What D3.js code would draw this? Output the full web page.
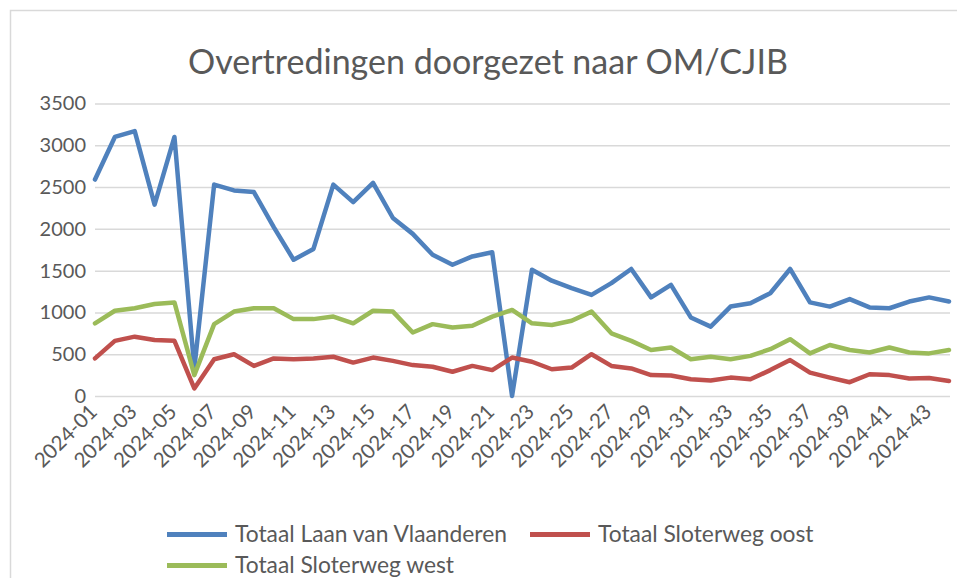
<!DOCTYPE html>
<html>
<head>
<meta charset="utf-8">
<script src="https://cdn.jsdelivr.net/npm/d3@7"></script>
<style>
  html, body { margin: 0; padding: 0; background: #fff; }
  svg { font-family: Lato, "Open Sans", sans-serif; }
</style>
</head>
<body>
<div id="chart"></div>
<script>
  // weeks 2024-01 .. 2024-44
  const weeks = d3.range(1, 45).map(w => "2024-" + String(w).padStart(2, "0"));

  const laanVanVlaanderen = [
    2590, 3100, 3170, 2290, 3100, 330, 2530, 2460, 2440, 2020,
    1630, 1760, 2530, 2320, 2550, 2130, 1940, 1690, 1570, 1670,
    1720, 0, 1510, 1380, 1290, 1210, 1350, 1520, 1180, 1330,
    940, 830, 1070, 1110, 1230, 1520, 1120, 1070, 1160, 1060,
    1050, 1130, 1180, 1130
  ];
  const sloterwegOost = [
    450, 660, 710, 670, 660, 90, 440, 500, 360, 450,
    440, 450, 470, 400, 460, 420, 370, 350, 290, 360,
    310, 460, 410, 320, 340, 500, 360, 330, 250, 245,
    200, 185, 220, 200, 310, 430, 280, 220, 165, 260,
    250, 210, 215, 180
  ];
  const sloterwegWest = [
    870, 1020, 1050, 1100, 1120, 250, 860, 1010, 1050, 1050,
    920, 920, 950, 870, 1020, 1010, 760, 860, 820, 840,
    950, 1030, 870, 850, 900, 1010, 750, 660, 550, 580,
    440, 470, 440, 480, 560, 680, 510, 610, 550, 520,
    580, 520, 510, 550
  ];
  const yTicks = [0, 500, 1000, 1500, 2000, 2500, 3000, 3500];

  const series = [
    { label: "Totaal Laan van Vlaanderen", values: laanVanVlaanderen, color: "#4f81bd" },
    { label: "Totaal Sloterweg oost", values: sloterwegOost, color: "#c0504d" },
    { label: "Totaal Sloterweg west", values: sloterwegWest, color: "#9bbb59" }
  ];

  const width = 957, height = 578;
  const plot = { left: 95, right: 949, top: 103.5, bottom: 396 };
  const textColor = "#595959";

  const svg = d3.select("#chart").append("svg")
      .attr("width", width)
      .attr("height", height);

  // chart area border
  svg.append("rect")
      .attr("x", 10.5).attr("y", 10.5)
      .attr("width", width).attr("height", height)
      .attr("fill", "#fff")
      .attr("stroke", "#d9d9d9")
      .attr("stroke-width", 1.5);

  svg.append("text")
      .attr("x", 488).attr("y", 74)
      .attr("text-anchor", "middle")
      .attr("fill", textColor)
      .style("font-size", "34px")
      .text("Overtredingen doorgezet naar OM/CJIB");

  const x = d3.scalePoint()
      .domain(weeks)
      .range([plot.left, plot.right]);
  const y = d3.scaleLinear()
      .domain([0, 3500])
      .range([plot.bottom, plot.top]);

  // gridlines + y labels
  const yAxis = svg.append("g")
      .attr("transform", `translate(${plot.left},0)`)
      .call(d3.axisLeft(y).tickValues(yTicks).tickFormat(d3.format("d"))
        .tickSize(-(plot.right - plot.left + 1)).tickPadding(9));
  yAxis.select(".domain").remove();
  yAxis.selectAll("line").attr("stroke", "#d9d9d9").attr("stroke-width", 1.5);
  yAxis.selectAll("text")
      .attr("fill", textColor)
      .style("font-size", "20px")
      .style("font-family", "Lato, sans-serif");

  // x labels, every other week
  const xAxis = svg.append("g")
      .attr("transform", `translate(0,${plot.bottom})`)
      .call(d3.axisBottom(x).tickValues(weeks.filter((d, i) => i % 2 === 0)).tickSize(0).tickPadding(0));
  xAxis.select(".domain").remove();
  xAxis.selectAll("text")
      .attr("fill", textColor)
      .style("font-size", "20.5px")
      .style("font-family", "Lato, sans-serif")
      .attr("text-anchor", "end")
      .attr("dy", null)
      .attr("y", 0)
      .attr("transform", "translate(3,17) rotate(-45)");

  const line = d3.line()
      .x((d, i) => x(weeks[i]))
      .y(d => y(d));

  svg.append("g").selectAll("path")
      .data(series)
      .enter()
      .append("path")
      .attr("d", d => line(d.values))
      .attr("fill", "none")
      .attr("stroke", d => d.color)
      .attr("stroke-width", 4.5)
      .attr("stroke-linejoin", "round")
      .attr("stroke-linecap", "round");

  // legend
  const legendPos = [
    { x: 167, y: 534.5 },
    { x: 530, y: 534.5 },
    { x: 167, y: 565.5 }
  ];
  const legend = svg.append("g").selectAll("g")
      .data(series)
      .enter()
      .append("g")
      .attr("transform", (d, i) => `translate(${legendPos[i].x},${legendPos[i].y})`);
  legend.append("line")
      .attr("x1", 0).attr("x2", 60)
      .attr("stroke", d => d.color)
      .attr("stroke-width", 5);
  legend.append("text")
      .attr("x", 68)
      .attr("dy", "0.35em")
      .attr("fill", textColor)
      .style("font-size", "22.8px")
      .text(d => d.label);
</script>
</body>
</html>
